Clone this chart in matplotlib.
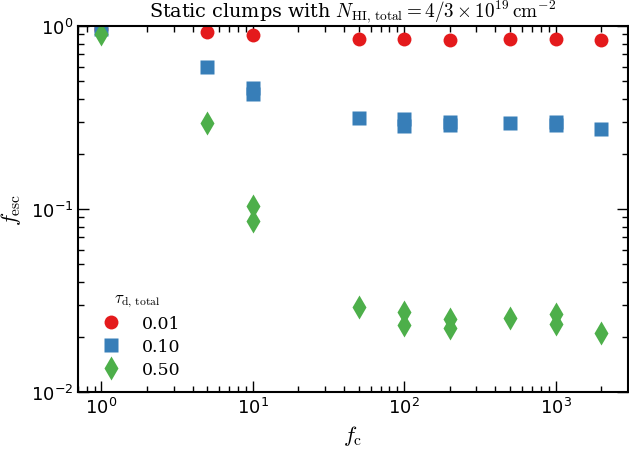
import matplotlib
matplotlib.use("Agg")
import matplotlib.pyplot as plt
import numpy as np

plt.rcParams['font.family'] = 'DejaVu Sans'
plt.rcParams['mathtext.fontset'] = 'cm'
plt.rcParams['axes.unicode_minus'] = False

# data
fc_red = [1, 5, 10, 50, 100, 200, 500, 1000, 2000]
fesc_red = [0.96, 0.93, 0.89, 0.85, 0.85, 0.84, 0.85, 0.85, 0.84]

fc_blue = [1, 5, 10, 10, 50, 100, 100, 200, 200, 500, 1000, 1000, 2000]
fesc_blue = [0.96, 0.60, 0.458, 0.425, 0.314, 0.31, 0.284, 0.30, 0.286, 0.295, 0.30, 0.288, 0.275]

fc_green = [1, 5, 10, 10, 50, 100, 100, 200, 200, 500, 1000, 1000, 2000]
fesc_green = [0.905, 0.295, 0.104, 0.0863, 0.0292, 0.0275, 0.0232, 0.0251, 0.0225, 0.0255, 0.0266, 0.0236, 0.0210]

labels = ['0.01', '0.10', '0.50']
colors = ['#e41a1c', '#377eb8', '#4daf4a']

fig = plt.figure(figsize=(6.29, 4.56), dpi=100)
ax = fig.add_axes([0.124, 0.138, 0.874, 0.803])

ax.plot(fc_red, fesc_red, 'o', color=colors[0], ms=10, mec='none', label=labels[0])
ax.plot(fc_blue, fesc_blue, 's', color=colors[1], ms=10, mec='none', label=labels[1])
ax.plot(fc_green, fesc_green, 'd', color=colors[2], ms=12, mec='none', label=labels[2])

ax.set_xscale('log')
ax.set_yscale('log')
ax.set_xlim(0.7, 3000)
ax.set_ylim(0.01, 1)

ax.tick_params(which='both', direction='in', top=True, right=True, labelsize=13)
ax.tick_params(which='major', length=8, width=1)
ax.tick_params(which='minor', length=4, width=1)
for s in ax.spines.values():
    s.set_linewidth(1.5)

ax.set_xlabel(r'$f_{\rm c}$', fontsize=16, labelpad=4)
ax.set_ylabel(r'$f_{\rm esc}$', fontsize=16)
ax.yaxis.set_label_coords(-0.1, 0.5)
ax.set_title(r'Static clumps with $N_{\rm HI,\,total}=4/3\times10^{19}\,{\rm cm^{-2}}$',
             fontsize=13.8, family='DejaVu Serif')

leg = ax.legend(loc='lower left', bbox_to_anchor=(0.0, -0.005), frameon=False,
                title=r'$\tau_{\rm d,\,total}$', numpoints=1,
                prop={'family': 'DejaVu Serif', 'size': 12.5}, handletextpad=0.8,
                labelspacing=0.35)
leg.get_title().set_fontsize(12)

fig.savefig('out.png', dpi=100)
